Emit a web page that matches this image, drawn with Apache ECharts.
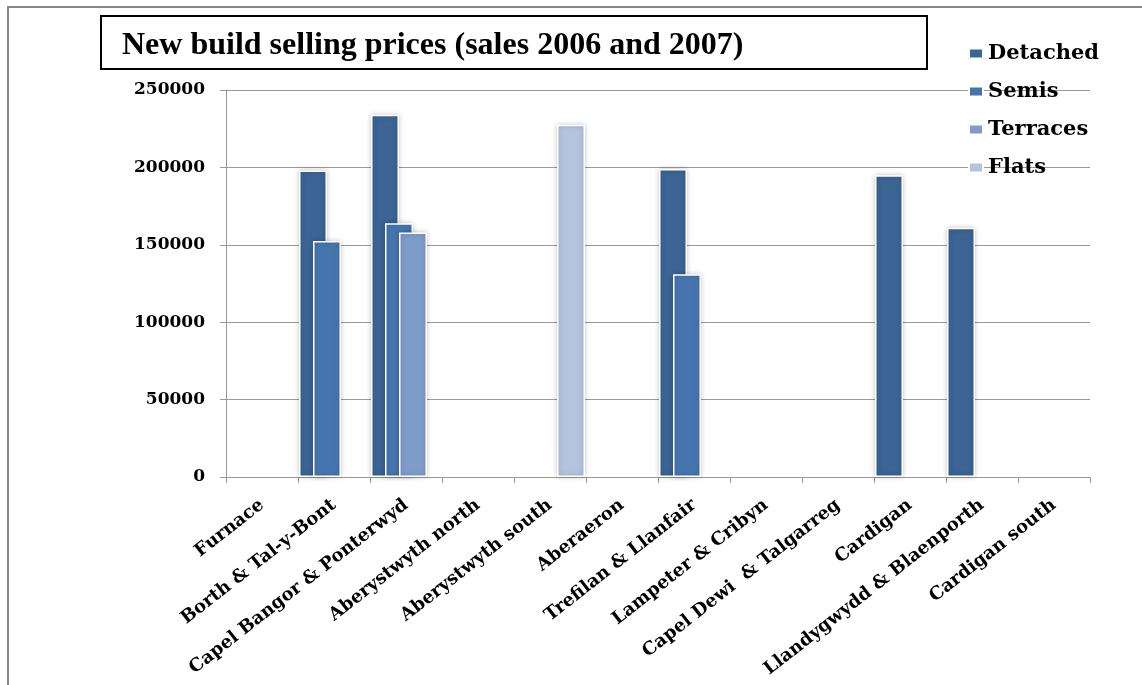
<!DOCTYPE html>
<html>
<head>
<meta charset="utf-8">
<script src="https://cdn.jsdelivr.net/npm/echarts@6/dist/echarts.min.js"></script>
<style>
html,body{margin:0;padding:0;background:#fff;}
#chart{width:1142px;height:685px;}
</style>
</head>
<body>
<div id="chart"></div>
<script>
const titleText = 'New build selling prices (sales 2006 and 2007)';
const categories = ['Furnace','Borth & Tal-y-Bont','Capel Bangor & Ponterwyd','Aberystwyth north','Aberystwyth south','Aberaeron','Trefilan & Llanfair','Lampeter & Cribyn','Capel Dewi  & Talgarreg','Cardigan','Llandygwydd & Blaenporth','Cardigan south'];
const seriesNames = ['Detached','Semis','Terraces','Flats'];
const detached = [null,198000,234000,null,null,null,199000,null,null,195000,161000,null];
const semis    = [null,152500,164000,null,null,null,131000,null,null,null,null,null];
const terraces = [null,null,158000,null,null,null,null,null,null,null,null,null];
const flats    = [null,null,null,null,227500,null,null,null,null,null,null,null];
const yTicks = [0,50000,100000,150000,200000,250000];

const colors = ['#3c6494','#4675ae','#7f9cc9','#b4c4df'];
const values = [detached, semis, terraces, flats];
const serif = '"DejaVu Serif", serif';

const chart = echarts.init(document.getElementById('chart'), null, {renderer:'canvas'});
chart.setOption({
  animation:false,
  backgroundColor:'#fff',
  color: colors,
  graphic:[
    {type:'rect', shape:{x:8,y:7,width:1400,height:900}, style:{fill:'none',stroke:'#888',lineWidth:2}, z:-1},
    {type:'rect', shape:{x:101,y:16,width:826,height:53}, style:{fill:'#fff',stroke:'#000',lineWidth:2}},
    {type:'text', left:122, top:30, style:{text:titleText, font:'bold 32px "Liberation Serif", serif', fill:'#000'}}
  ],
  legend:{
    orient:'vertical', left:968, top:43, padding:0,
    itemWidth:14, itemHeight:10, itemGap:17,
    icon:'rect',
    data: seriesNames,
    textStyle:{fontFamily:serif, fontWeight:'bold', fontSize:21, color:'#000', lineHeight:20}
  },
  grid:{left:226, right:52, top:90, bottom:208, containLabel:false},
  xAxis:{
    type:'category',
    data: categories,
    boundaryGap:true,
    axisLine:{lineStyle:{color:'#999',width:1}},
    axisTick:{show:true, length:6, lineStyle:{color:'#999'}},
    axisLabel:{interval:0, rotate:38, margin:26, fontFamily:serif, fontWeight:'bold', fontSize:18, color:'#000'}
  },
  yAxis:{
    type:'value', min:yTicks[0], max:yTicks[yTicks.length-1], interval:50000,
    axisLine:{show:true, lineStyle:{color:'#999',width:1}},
    axisTick:{show:true, length:6, lineStyle:{color:'#999'}},
    splitLine:{show:true, lineStyle:{color:'#999',width:1}},
    axisLabel:{margin:21, fontFamily:serif, fontWeight:'bold', fontSize:17, color:'#000', formatter:(v)=>String(v)}
  },
  series: seriesNames.map((name,i)=>({
    name:name, type:'bar', data: values[i],
    barWidth:28, barGap:'-50%', barCategoryGap:'0%',
    itemStyle:{color:colors[i], borderColor:'#fff', borderWidth:1.5, shadowBlur:5, shadowColor:'rgba(0,0,0,0.25)'}
  }))
});
</script>
</body>
</html>
